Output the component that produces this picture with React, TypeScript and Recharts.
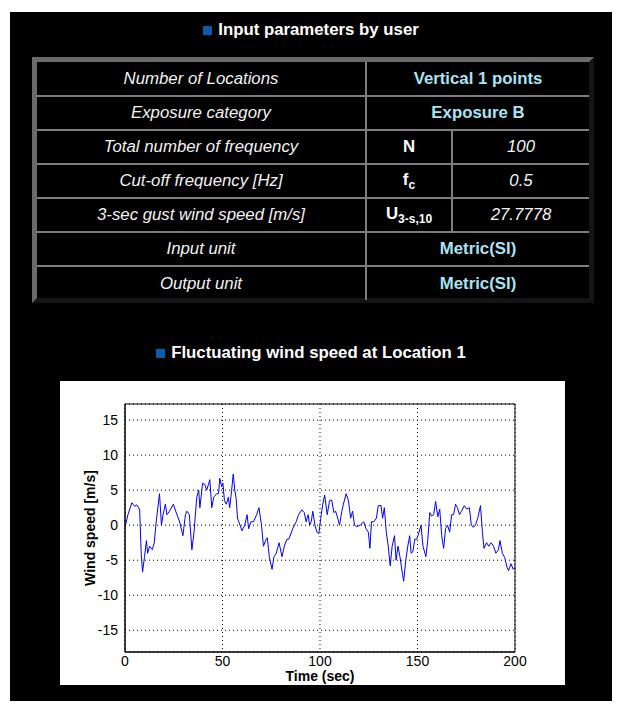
import { CartesianGrid, Label, Line, LineChart, ReferenceArea, XAxis, YAxis } from 'recharts';

// input parameters table
const paramLabels = [
  'Number of Locations',
  'Exposure category',
  'Total number of frequency',
  'Cut-off frequency [Hz]',
  '3-sec gust wind speed [m/s]',
  'Input unit',
  'Output unit',
];
const paramValues = ['Vertical 1 points', 'Exposure B', '100', '0.5', '27.7778', 'Metric(SI)', 'Metric(SI)'];

// time series (sec, m/s)
const timeSec = [
  0, 1.5, 3.5, 5, 6, 7.5, 8.3, 9, 10, 11, 11.6, 12.6, 14, 15, 16, 17.7, 18.7, 19.5, 20.7, 21.5,
  22.8, 24.8, 26, 28, 29.7, 31, 31.7, 33, 34.3, 35.4, 36.8, 37.8, 38.4, 39.8, 41, 41.9, 43.5, 44.5,
  45.5, 47, 48, 48.6, 49.6, 50.2, 51, 52, 53, 53.7, 54.7, 55.5, 56.3, 57, 57.7, 59, 60, 61.4, 62.6,
  63.4, 64.6, 65.9, 67.5, 68.7, 70, 71, 72.4, 73, 74, 75.4, 76.4, 77.6, 79, 80.5, 81.7, 83, 84, 86,
  87.8, 89, 90.7, 91.9, 92.9, 93.9, 94.7, 95.5, 96.3, 97.4, 98.4, 99.4, 100.4, 101.4, 102.4, 103.7,
  104.9, 106, 107.1, 108, 109.1, 110, 111.2, 112, 113.4, 114.6, 115.7, 116.7, 117.7, 118.7, 120.7,
  122.4, 123.6, 124.8, 125.6, 126.4, 127.6, 128.9, 129.9, 131.3, 132.1, 133, 134, 135, 136, 137,
  138.2, 139, 140, 141, 142.3, 142.9, 144, 145, 146, 146.7, 147.6, 148.6, 149.6, 150.8, 151.8, 152.8,
  154.3, 155.3, 156.3, 157.3, 158.3, 159.3, 160.4, 161.4, 162.4, 163.4, 164.4, 165.4, 166.5, 167.5,
  168.5, 169.5, 170.5, 171.5, 172.6, 174, 175.2, 176.6, 177.6, 178.7, 179.7, 180.9, 182.3, 183.3,
  184.1, 185.4, 186.6, 187.8, 189, 190.2, 191.5, 192.3, 193.5, 194.7, 195.9, 196.7, 197.9, 199.1, 200,
];
const windSpeed = [
  -0.3, 1.5, 3.2, 2.7, 2.9, 2.3, -4, -6.7, -4.5, -2.2, -4, -3, -3.5, -2.5, 0.5, 4.5, 0, 1.5, 3, 1.5,
  2, 3, 2, 0.5, -1.5, 1.5, 2, 1.5, -3.5, -1, 4, 5, 2.5, 6, 5.8, 5, 6.5, 2.5,
  4, 4.5, 4.5, 6.7, 5.5, 6, 3.5, 3, 4, 2.5, 5, 7.3, 5, 3.8, 1, 0, -0.8, 0, 1.5,
  -0.5, 0.5, 0.5, 1.5, 2.5, 0, -3, -2, -1.8, -4.5, -6.3, -4.5, -4, -2.5, -4.5, -3, -2, -2, -0.5,
  0.5, 1.5, 2.2, 1.8, 0.5, 1.5, 0, 0.5, 2, 0, -1, -1.2, 1, 3, 4.3, 1.5,
  3.5, 3.6, 1.8, 2, 1, 0, 2, 3, 4.5, 3.5, 1, 2, 0, -0.2, 0,
  0.5, -0.5, -1, -3.3, 0.5, 0.5, 1, 2.8, 2.8, 1, 2.5, -1, -3, -5.8, -3,
  -1.5, -5, -3, -4.5, -7, -8, -5, -3, -1.5, -4, -3.8, -2, -2, -1, 0, -3,
  -4.5, -2, 1.8, 1.3, 1.5, 3.4, 1.2, 2.3, -1.5, -3.3, -0.5, 0, -1, 1.5,
  1.5, 3, 2.5, 1.5, 2, 2.8, 2.3, 2.5, 0, -0.3, 0, 1, 2.8, -1,
  -3.3, -2.5, -3, -2.5, -3, -4, -3.5, -2.2, -4, -4.6, -6, -6.5, -5.5, -6.3, -6,
];
const xTicks = [0, 50, 100, 150, 200];
const yTicks = [-15, -10, -5, 0, 5, 10, 15];

const chartData = timeSec.map((t, i) => ({ t, v: windSpeed[i] }));

const font = '"Liberation Sans", Arial, sans-serif';
const cellBorder = '2px solid #7d7d7d';
const valueColor = '#a9e3f5';

function SectionTitle({ text, top }: { text: string; top: number }) {
  return (
    <div
      style={{
        position: 'absolute',
        top,
        left: 0,
        width: '100%',
        textAlign: 'center',
        color: '#fff',
        fontWeight: 'bold',
        fontSize: 16.8,
        lineHeight: '20px',
      }}
    >
      <span style={{ display: 'inline-block', width: 9, height: 9, background: '#0b5ca8', marginRight: 6 }} />
      {text}
    </div>
  );
}

export default function App() {
  const labelCell = {
    borderRight: cellBorder,
    borderBottom: cellBorder,
    fontStyle: 'italic',
    color: '#f2f2f2',
    textAlign: 'center' as const,
    width: 326,
  };
  const boldValue = { borderBottom: cellBorder, color: valueColor, fontWeight: 'bold', textAlign: 'center' as const };
  const symbolCell = { borderRight: cellBorder, borderBottom: cellBorder, color: '#fff', fontWeight: 'bold', textAlign: 'center' as const, width: 82 };
  const numberCell = { borderBottom: cellBorder, color: '#f2f2f2', fontStyle: 'italic', textAlign: 'center' as const };
  const symbols = [null, null, <>N</>, <>f<sub style={{ fontSize: 12 }}>c</sub></>, <>U<sub style={{ fontSize: 12 }}>3-s,10</sub></>, null, null];

  return (
    <div style={{ position: 'relative', marginLeft: 2, marginTop: 4, width: 602, height: 689, background: '#000', fontFamily: font }}>
      <SectionTitle text="Input parameters by user" top={8} />

      {/* parameters table */}
      <div
        style={{
          position: 'absolute',
          left: 22,
          top: 45,
          width: 552,
          height: 236,
          border: '5px outset #6a6a6a',
        }}
      >
        <table style={{ width: '100%', height: '100%', borderCollapse: 'collapse', fontSize: 16.8 }}>
          <tbody>
            {paramLabels.map((label, i) => (
              <tr key={label} style={{ height: 34 }}>
                <td style={i === 6 ? { ...labelCell, borderBottom: 'none' } : labelCell}>{label}</td>
                {symbols[i] ? (
                  <>
                    <td style={symbolCell}>{symbols[i]}</td>
                    <td style={numberCell}>{paramValues[i]}</td>
                  </>
                ) : (
                  <td colSpan={2} style={i === 6 ? { ...boldValue, borderBottom: 'none' } : boldValue}>
                    {paramValues[i]}
                  </td>
                )}
              </tr>
            ))}
          </tbody>
        </table>
      </div>

      <SectionTitle text="Fluctuating wind speed at Location 1" top={331} />

      {/* wind speed plot */}
      <div style={{ position: 'absolute', left: 50, top: 369, width: 505, height: 304, background: '#fff' }}>
        <LineChart width={505} height={304} data={chartData} margin={{ top: 23, right: 50, bottom: 0, left: 0 }}>
          <CartesianGrid stroke="#000" strokeDasharray="1 3" />
          <XAxis
            dataKey="t"
            type="number"
            domain={[0, 200]}
            ticks={xTicks}
            height={33}
            tickLine={false}
            tickSize={2}
            tickMargin={2}
            axisLine={{ stroke: '#000' }}
            tick={{ fill: '#000', fontSize: 14, fontFamily: font }}
            allowDataOverflow
          >
            <Label value="Time (sec)" position="insideBottom" offset={4} style={{ fontWeight: 'bold', fontSize: 14, fill: '#000', fontFamily: font }} />
          </XAxis>
          <YAxis
            type="number"
            domain={[-18.1, 17.3]}
            ticks={yTicks}
            width={65}
            tickLine={false}
            tickSize={4}
            tickMargin={3}
            axisLine={{ stroke: '#000' }}
            tick={{ fill: '#000', fontSize: 14, fontFamily: font }}
            allowDataOverflow
          >
            <Label value="Wind speed [m/s]" angle={-90} position="center" dx={-2} style={{ fontWeight: 'bold', fontSize: 14, fill: '#000', fontFamily: font }} />
          </YAxis>
          <ReferenceArea x1={0} x2={200} y1={-18.1} y2={17.3} fill="none" stroke="#000" strokeWidth={1} />
          <Line dataKey="v" type="linear" stroke="#0000ff" strokeWidth={1} dot={false} isAnimationActive={false} />
        </LineChart>
      </div>
    </div>
  );
}
